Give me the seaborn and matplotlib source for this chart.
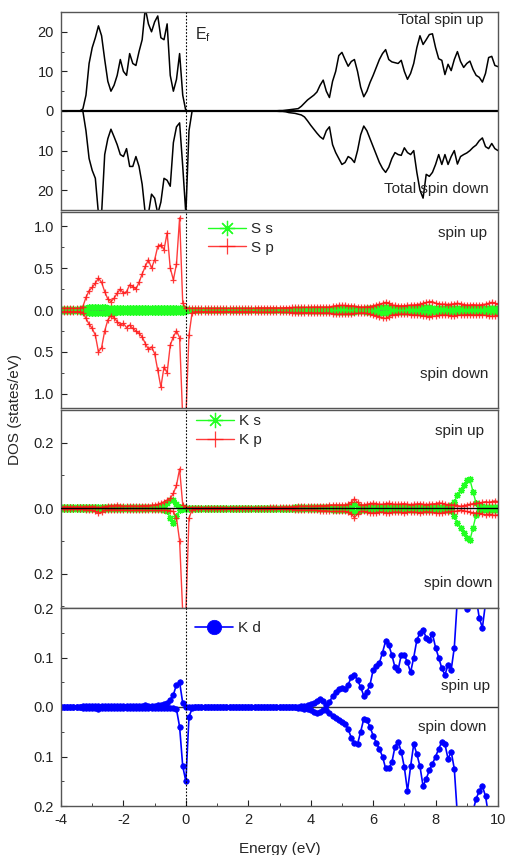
import numpy as np
import matplotlib
matplotlib.use("Agg")
import matplotlib.pyplot as plt
from matplotlib.ticker import MultipleLocator
import seaborn as sns

# energy grid (eV), step 0.1 from -4 to 10
energy = np.round(np.linspace(-4.0, 10.0, 141), 1)

# ---- total DOS ----
total_up = [
    0, 0, 0, 0, 0, 0, 0, 0.5, 4, 12,
    16, 18.5, 21.5, 19, 13, 7.5, 5, 6.5, 9, 13,
    10, 9, 14.5, 12, 11.5, 15, 18, 26, 22, 20,
    22.5, 24, 18.5, 18, 22, 9, 5, 8, 14.5, 4,
    0, 0, 0, 0, 0, 0, 0, 0, 0, 0,
    0, 0, 0, 0, 0, 0, 0, 0, 0, 0,
    0, 0, 0, 0, 0, 0, 0, 0, 0, 0.05,
    0.1, 0.1, 0.2, 0.3, 0.4, 0.5, 0.6, 1.2, 2.0, 2.8,
    3.4, 4.0, 4.8, 6.5, 7.8, 5, 3.4, 7.5, 10, 14,
    14.8, 13, 11.3, 12.5, 13, 10, 6, 3.6, 5, 7.2,
    9, 11, 13, 14.5, 15.5, 13, 12.4, 12.2, 12, 12.8,
    10, 8, 9.5, 12, 16, 19, 16.8, 18, 19.3, 19.5,
    16, 13.2, 12.8, 9.2, 11.8, 10.2, 13, 15, 12.5, 11,
    12, 12.6, 10.5, 9, 8.5, 7.3, 9.5, 13.5, 13.8, 11.5,
    11.2,
]
total_down = [
    0, 0, 0, 0, 0, 0, 0, 0, -5, -12,
    -15, -17, -26, -26, -11, -7, -4.6, -6.5, -8.5, -11,
    -11.5, -9.5, -14, -14, -11.5, -14, -18.5, -26, -26, -21,
    -22, -26, -23, -17, -17.5, -19, -8, -4, -3, -14,
    -26, -5, 0, 0, 0, 0, 0, 0, 0, 0,
    0, 0, 0, 0, 0, 0, 0, 0, 0, 0,
    0, 0, 0, 0, 0, 0, 0, 0, 0, -0.05,
    -0.1, -0.1, -0.2, -0.4, -0.5, -0.6, -0.8, -1.0, -1.5, -2.5,
    -3.6, -4.6, -5.6, -6.5, -7.1, -5, -4, -8.5, -10.5, -12,
    -13.5, -13, -11.5, -12, -13, -10, -6, -3.8, -5, -7,
    -9, -11, -13, -14.5, -15.5, -14.2, -12, -10.5, -11, -11.2,
    -9.3, -10.5, -11, -10, -15.5, -20, -22, -16, -16.5, -15.5,
    -13.5, -11, -13.5, -11, -13.5, -11.5, -10, -13.4, -11.5, -11,
    -10.6, -10, -9.2, -8.6, -7.5, -6.8, -9, -9.5, -8.2, -9.5,
    -10,
]

# ---- S s / S p ----
s_s_up = [
    0.01, 0.01, 0.01, 0.01, 0.01, 0.01, 0.01, 0.02, 0.025, 0.03,
    0.03, 0.03, 0.03, 0.03, 0.03, 0.025, 0.025, 0.025, 0.025, 0.025,
    0.025, 0.025, 0.025, 0.025, 0.025, 0.025, 0.025, 0.025, 0.025, 0.025,
    0.025, 0.025, 0.025, 0.025, 0.025, 0.025, 0.025, 0.025, 0.025, 0.02,
    0.01, 0.005, 0.005, 0.005, 0.005, 0.005, 0.005, 0.005, 0.005, 0.005,
    0.005, 0.005, 0.005, 0.005, 0.005, 0.005, 0.005, 0.005, 0.005, 0.005,
    0.005, 0.005, 0.005, 0.005, 0.005, 0.005, 0.005, 0.005, 0.005, 0.005,
    0.005, 0.005, 0.005, 0.005, 0.005, 0.008, 0.01, 0.01, 0.01, 0.01,
    0.01, 0.012, 0.012, 0.012, 0.012, 0.012, 0.012, 0.015, 0.02, 0.02,
    0.02, 0.02, 0.02, 0.02, 0.02, 0.015, 0.015, 0.015, 0.02, 0.02,
    0.02, 0.025, 0.03, 0.035, 0.035, 0.03, 0.02, 0.02, 0.02, 0.02,
    0.02, 0.02, 0.02, 0.025, 0.025, 0.03, 0.035, 0.035, 0.03, 0.025,
    0.025, 0.02, 0.02, 0.02, 0.02, 0.02, 0.02, 0.025, 0.02, 0.02,
    0.02, 0.02, 0.02, 0.02, 0.02, 0.02, 0.025, 0.025, 0.02, 0.02,
    0.02,
]
s_s_down = [
    -0.01, -0.01, -0.01, -0.01, -0.01, -0.01, -0.01, -0.02, -0.025, -0.03,
    -0.03, -0.035, -0.04, -0.04, -0.04, -0.035, -0.03, -0.03, -0.025, -0.025,
    -0.025, -0.025, -0.025, -0.025, -0.025, -0.025, -0.025, -0.025, -0.025, -0.025,
    -0.025, -0.025, -0.025, -0.025, -0.025, -0.025, -0.025, -0.025, -0.025, -0.02,
    -0.01, -0.005, -0.005, -0.005, -0.005, -0.005, -0.005, -0.005, -0.005, -0.005,
    -0.005, -0.005, -0.005, -0.005, -0.005, -0.005, -0.005, -0.005, -0.005, -0.005,
    -0.005, -0.005, -0.005, -0.005, -0.005, -0.005, -0.005, -0.005, -0.005, -0.005,
    -0.005, -0.005, -0.005, -0.005, -0.005, -0.008, -0.01, -0.01, -0.01, -0.01,
    -0.01, -0.012, -0.012, -0.012, -0.012, -0.012, -0.012, -0.015, -0.02, -0.02,
    -0.02, -0.02, -0.02, -0.02, -0.02, -0.015, -0.015, -0.015, -0.02, -0.02,
    -0.02, -0.025, -0.03, -0.035, -0.04, -0.03, -0.02, -0.02, -0.02, -0.02,
    -0.02, -0.02, -0.02, -0.025, -0.025, -0.03, -0.035, -0.035, -0.03, -0.025,
    -0.025, -0.02, -0.02, -0.02, -0.02, -0.02, -0.02, -0.025, -0.02, -0.02,
    -0.02, -0.02, -0.02, -0.02, -0.02, -0.02, -0.025, -0.025, -0.02, -0.02,
    -0.02,
]
s_p_up = [
    0.02, 0.02, 0.02, 0.02, 0.02, 0.02, 0.02, 0.04, 0.15, 0.23,
    0.27, 0.32, 0.38, 0.33, 0.22, 0.13, 0.1, 0.14, 0.2, 0.25,
    0.2, 0.22, 0.3, 0.28, 0.25, 0.33, 0.43, 0.52, 0.6, 0.5,
    0.6, 0.76, 0.78, 0.72, 0.92, 0.5, 0.36, 0.55, 1.1, 0.08,
    0.02, 0.02, 0.02, 0.02, 0.02, 0.02, 0.02, 0.02, 0.02, 0.02,
    0.02, 0.02, 0.02, 0.02, 0.02, 0.02, 0.02, 0.02, 0.02, 0.02,
    0.02, 0.02, 0.02, 0.025, 0.025, 0.025, 0.025, 0.025, 0.025, 0.025,
    0.025, 0.025, 0.028, 0.028, 0.03, 0.03, 0.03, 0.03, 0.032, 0.032,
    0.032, 0.035, 0.035, 0.035, 0.035, 0.035, 0.035, 0.045, 0.05, 0.055,
    0.055, 0.055, 0.05, 0.05, 0.045, 0.04, 0.035, 0.035, 0.035, 0.04,
    0.05, 0.06, 0.07, 0.08, 0.09, 0.08, 0.06, 0.055, 0.05, 0.05,
    0.05, 0.055, 0.06, 0.06, 0.065, 0.07, 0.08, 0.09, 0.1, 0.1,
    0.08, 0.075, 0.07, 0.07, 0.065, 0.07, 0.075, 0.08, 0.075, 0.065,
    0.06, 0.06, 0.065, 0.06, 0.06, 0.065, 0.07, 0.08, 0.09, 0.08,
    0.07,
]
s_p_down = [
    -0.02, -0.02, -0.02, -0.02, -0.02, -0.02, -0.02, -0.03, -0.1, -0.17,
    -0.22, -0.3, -0.5, -0.45, -0.25, -0.12, -0.07, -0.09, -0.14, -0.18,
    -0.16, -0.21, -0.18, -0.22, -0.25, -0.28, -0.32, -0.4, -0.47, -0.44,
    -0.52, -0.72, -0.92, -0.68, -0.75, -0.42, -0.32, -0.25, -0.33, -1.3,
    -1.3, -0.3, -0.03, -0.02, -0.02, -0.02, -0.02, -0.02, -0.02, -0.02,
    -0.02, -0.02, -0.02, -0.02, -0.02, -0.02, -0.02, -0.02, -0.02, -0.02,
    -0.02, -0.02, -0.02, -0.025, -0.025, -0.025, -0.025, -0.025, -0.025, -0.025,
    -0.025, -0.025, -0.028, -0.028, -0.03, -0.03, -0.03, -0.03, -0.032, -0.032,
    -0.032, -0.035, -0.035, -0.035, -0.035, -0.035, -0.035, -0.045, -0.05, -0.05,
    -0.05, -0.05, -0.045, -0.045, -0.04, -0.04, -0.035, -0.035, -0.04, -0.05,
    -0.06, -0.07, -0.08, -0.09, -0.1, -0.08, -0.06, -0.055, -0.05, -0.05,
    -0.05, -0.05, -0.055, -0.06, -0.06, -0.065, -0.07, -0.075, -0.08, -0.075,
    -0.07, -0.065, -0.06, -0.06, -0.065, -0.07, -0.07, -0.065, -0.06, -0.06,
    -0.055, -0.055, -0.06, -0.06, -0.055, -0.06, -0.065, -0.07, -0.075, -0.07,
    -0.065,
]

# ---- K s / K p ----
k_s_up = [
    0.004, 0.004, 0.004, 0.004, 0.004, 0.004, 0.004, 0.004, 0.004, 0.004,
    0.004, 0.004, 0.004, 0.004, 0.004, 0.004, 0.004, 0.004, 0.004, 0.004,
    0.004, 0.004, 0.004, 0.004, 0.004, 0.004, 0.004, 0.004, 0.004, 0.004,
    0.004, 0.004, 0.004, 0.006, 0.015, 0.025, 0.025, 0.012, 0.005, 0.003,
    0.002, 0.002, 0.002, 0.002, 0.002, 0.002, 0.002, 0.002, 0.002, 0.002,
    0.002, 0.002, 0.002, 0.002, 0.002, 0.002, 0.002, 0.002, 0.002, 0.002,
    0.002, 0.002, 0.002, 0.002, 0.002, 0.002, 0.002, 0.002, 0.002, 0.002,
    0.002, 0.002, 0.002, 0.002, 0.002, 0.003, 0.003, 0.003, 0.003, 0.003,
    0.003, 0.003, 0.004, 0.004, 0.004, 0.004, 0.004, 0.005, 0.005, 0.005,
    0.005, 0.005, 0.006, 0.008, 0.012, 0.008, 0.005, 0.005, 0.005, 0.005,
    0.005, 0.005, 0.005, 0.005, 0.005, 0.005, 0.005, 0.005, 0.005, 0.005,
    0.005, 0.005, 0.005, 0.005, 0.005, 0.005, 0.005, 0.005, 0.005, 0.005,
    0.005, 0.005, 0.005, 0.005, 0.005, 0.01, 0.02, 0.04, 0.055, 0.07,
    0.085, 0.088, 0.05, 0.015, 0.008, 0.006, 0.005, 0.005, 0.005, 0.005,
    0.005,
]
k_s_down = [
    -0.004, -0.004, -0.004, -0.004, -0.004, -0.004, -0.004, -0.004, -0.004, -0.004,
    -0.004, -0.004, -0.004, -0.004, -0.004, -0.004, -0.004, -0.004, -0.004, -0.004,
    -0.004, -0.004, -0.004, -0.004, -0.004, -0.004, -0.004, -0.004, -0.004, -0.004,
    -0.004, -0.004, -0.004, -0.005, -0.01, -0.03, -0.045, -0.025, -0.006, -0.003,
    -0.002, -0.002, -0.002, -0.002, -0.002, -0.002, -0.002, -0.002, -0.002, -0.002,
    -0.002, -0.002, -0.002, -0.002, -0.002, -0.002, -0.002, -0.002, -0.002, -0.002,
    -0.002, -0.002, -0.002, -0.002, -0.002, -0.002, -0.002, -0.002, -0.002, -0.002,
    -0.002, -0.002, -0.002, -0.002, -0.002, -0.003, -0.003, -0.003, -0.003, -0.003,
    -0.003, -0.003, -0.004, -0.004, -0.004, -0.004, -0.004, -0.005, -0.005, -0.005,
    -0.005, -0.005, -0.006, -0.008, -0.012, -0.008, -0.005, -0.005, -0.005, -0.005,
    -0.005, -0.005, -0.005, -0.005, -0.005, -0.005, -0.005, -0.005, -0.005, -0.005,
    -0.005, -0.005, -0.005, -0.005, -0.005, -0.005, -0.005, -0.005, -0.005, -0.005,
    -0.005, -0.005, -0.005, -0.005, -0.005, -0.01, -0.025, -0.045, -0.06, -0.075,
    -0.09, -0.098, -0.06, -0.02, -0.008, -0.006, -0.005, -0.005, -0.005, -0.005,
    -0.005,
]
k_p_up = [
    0.004, 0.004, 0.004, 0.004, 0.004, 0.004, 0.004, 0.004, 0.005, 0.005,
    0.005, 0.004, 0.002, 0.003, 0.005, 0.006, 0.008, 0.008, 0.01, 0.008,
    0.006, 0.006, 0.007, 0.007, 0.006, 0.006, 0.008, 0.008, 0.008, 0.009,
    0.01, 0.012, 0.015, 0.02, 0.025, 0.03, 0.045, 0.07, 0.12, 0.01,
    0.003, 0.002, 0.002, 0.002, 0.002, 0.002, 0.002, 0.002, 0.002, 0.002,
    0.002, 0.002, 0.002, 0.002, 0.002, 0.002, 0.002, 0.002, 0.002, 0.002,
    0.002, 0.002, 0.002, 0.002, 0.002, 0.002, 0.002, 0.003, 0.003, 0.003,
    0.003, 0.003, 0.004, 0.004, 0.004, 0.005, 0.006, 0.006, 0.006, 0.006,
    0.006, 0.006, 0.007, 0.008, 0.008, 0.008, 0.01, 0.01, 0.01, 0.01,
    0.01, 0.01, 0.012, 0.018, 0.028, 0.018, 0.01, 0.01, 0.012, 0.014,
    0.015, 0.014, 0.012, 0.012, 0.014, 0.015, 0.013, 0.012, 0.012, 0.013,
    0.014, 0.012, 0.011, 0.012, 0.013, 0.014, 0.012, 0.011, 0.012, 0.013,
    0.014, 0.016, 0.015, 0.012, 0.011, 0.01, 0.01, 0.008, 0.006, 0.008,
    0.01, 0.012, 0.014, 0.015, 0.016, 0.018, 0.02, 0.018, 0.02, 0.022,
    0.02,
]
k_p_down = [
    -0.004, -0.004, -0.004, -0.004, -0.004, -0.004, -0.004, -0.004, -0.005, -0.006,
    -0.007, -0.01, -0.015, -0.012, -0.007, -0.006, -0.005, -0.005, -0.006, -0.006,
    -0.006, -0.006, -0.007, -0.007, -0.006, -0.006, -0.007, -0.007, -0.007, -0.007,
    -0.007, -0.007, -0.007, -0.007, -0.007, -0.008, -0.01, -0.03, -0.1, -0.32,
    -0.32, -0.03, -0.005, -0.002, -0.002, -0.002, -0.002, -0.002, -0.002, -0.002,
    -0.002, -0.002, -0.002, -0.002, -0.002, -0.002, -0.002, -0.002, -0.002, -0.002,
    -0.002, -0.002, -0.002, -0.002, -0.002, -0.002, -0.002, -0.003, -0.003, -0.003,
    -0.003, -0.003, -0.004, -0.004, -0.004, -0.005, -0.006, -0.006, -0.006, -0.006,
    -0.006, -0.006, -0.007, -0.008, -0.008, -0.008, -0.01, -0.01, -0.01, -0.01,
    -0.01, -0.01, -0.012, -0.018, -0.029, -0.018, -0.01, -0.01, -0.012, -0.014,
    -0.015, -0.014, -0.012, -0.012, -0.014, -0.015, -0.013, -0.012, -0.012, -0.013,
    -0.014, -0.012, -0.011, -0.012, -0.013, -0.014, -0.012, -0.011, -0.012, -0.013,
    -0.014, -0.016, -0.015, -0.012, -0.011, -0.01, -0.01, -0.008, -0.006, -0.008,
    -0.01, -0.012, -0.014, -0.015, -0.016, -0.018, -0.02, -0.018, -0.02, -0.022,
    -0.02,
]

# ---- K d ----
k_d_up = [
    0.001, 0.001, 0.001, 0.001, 0.001, 0.001, 0.001, 0.002, 0.002, 0.003,
    0.003, 0.003, 0.003, 0.003, 0.003, 0.002, 0.002, 0.002, 0.003, 0.003,
    0.003, 0.003, 0.003, 0.003, 0.003, 0.003, 0.003, 0.004, 0.003, 0.003,
    0.003, 0.004, 0.005, 0.006, 0.008, 0.015, 0.025, 0.045, 0.05, 0.008,
    0, 0, 0, 0, 0, 0, 0, 0, 0, 0,
    0, 0, 0, 0, 0, 0, 0, 0, 0, 0,
    0, 0, 0, 0, 0, 0, 0, 0, 0, 0,
    0, 0, 0, 0, 0, 0.001, 0.001, 0.002, 0.003, 0.004,
    0.006, 0.009, 0.012, 0.016, 0.012, 0.004, 0.01, 0.022, 0.03, 0.036,
    0.038, 0.036, 0.045, 0.06, 0.064, 0.055, 0.04, 0.023, 0.03, 0.045,
    0.075, 0.082, 0.089, 0.11, 0.133, 0.125, 0.105, 0.08, 0.075, 0.105,
    0.105, 0.09, 0.07, 0.1, 0.135, 0.15, 0.156, 0.14, 0.135, 0.148,
    0.12, 0.1, 0.078, 0.065, 0.085, 0.075, 0.12, 0.22, 0.25, 0.22,
    0.198, 0.23, 0.25, 0.22, 0.18, 0.16, 0.21, 0.25, 0.25, 0.25,
    0.25,
]
k_d_down = [
    -0.001, -0.001, -0.001, -0.001, -0.001, -0.001, -0.001, -0.002, -0.002, -0.003,
    -0.003, -0.003, -0.004, -0.003, -0.003, -0.002, -0.002, -0.002, -0.003, -0.003,
    -0.003, -0.003, -0.003, -0.003, -0.003, -0.003, -0.003, -0.003, -0.003, -0.003,
    -0.003, -0.003, -0.003, -0.003, -0.003, -0.003, -0.003, -0.005, -0.04, -0.12,
    -0.15, -0.02, -0.003, 0, 0, 0, 0, 0, 0, 0,
    0, 0, 0, 0, 0, 0, 0, 0, 0, 0,
    0, 0, 0, 0, 0, 0, 0, 0, 0, 0,
    0, 0, 0, 0, 0, -0.001, -0.002, -0.003, -0.004, -0.005,
    -0.007, -0.01, -0.013, -0.011, -0.007, -0.006, -0.012, -0.018, -0.022, -0.026,
    -0.03, -0.034, -0.045, -0.062, -0.072, -0.075, -0.05, -0.024, -0.027, -0.04,
    -0.058, -0.072, -0.085, -0.1, -0.124, -0.124, -0.112, -0.08, -0.07, -0.09,
    -0.122, -0.17, -0.12, -0.075, -0.095, -0.12, -0.16, -0.145, -0.128, -0.115,
    -0.1, -0.085, -0.07, -0.075, -0.105, -0.09, -0.125, -0.22, -0.25, -0.26,
    -0.25, -0.24, -0.21, -0.185, -0.17, -0.16, -0.18, -0.22, -0.25, -0.25,
    -0.25,
]

x_ticks = [-4, -2, 0, 2, 4, 6, 8, 10]
x_tick_labels = ["-4", "-2", "0", "2", "4", "6", "8", "10"]
p1_ticks, p1_labels = [-20, -10, 0, 10, 20], ["20", "10", "0", "10", "20"]
p2_ticks, p2_labels = [-1.0, -0.5, 0.0, 0.5, 1.0], ["1.0", "0.5", "0.0", "0.5", "1.0"]
p3_ticks, p3_labels = [-0.2, 0.0, 0.2], ["0.2", "0.0", "0.2"]
p4_ticks, p4_labels = [-0.2, -0.1, 0.0, 0.1, 0.2], ["0.2", "0.1", "0.0", "0.1", "0.2"]

sns.set_style("white")
plt.rcParams['font.family'] = ['Liberation Sans', 'DejaVu Sans']
plt.rcParams['mathtext.default'] = 'regular'

W, H = 505, 855
fig = plt.figure(figsize=(W / 100, H / 100), dpi=100)

def axes_px(top, bottom):
    return fig.add_axes([61 / W, 1 - bottom / H, 437 / W, (bottom - top) / H])

ax1 = axes_px(12, 210)
ax2 = axes_px(212, 408)
ax3 = axes_px(410, 608)
ax4 = axes_px(608, 806)
axes = [ax1, ax2, ax3, ax4]

GREEN = '#22ff22'
RED = '#ff1a1a'
BLUE = '#0000ff'
star = (8, 2, 0)

# panel 1: total
sns.lineplot(x=energy, y=total_up, ax=ax1, color='black', linewidth=1.1, estimator=None, sort=False)
sns.lineplot(x=energy, y=total_down, ax=ax1, color='black', linewidth=1.1, estimator=None, sort=False)
ax1.axhline(0, color='black', lw=1.6, zorder=1)

# panel 2: S
kw_s = dict(color=GREEN, marker=star, markersize=5, markeredgecolor=GREEN, markeredgewidth=0.9,
            linewidth=1, estimator=None, sort=False)
kw_p = dict(color=RED, marker='+', markersize=5, markeredgecolor=RED, markeredgewidth=0.9,
            linewidth=1, estimator=None, sort=False, alpha=0.85)
ax2.axhline(0, color='#555555', lw=1.2, zorder=1)
sns.lineplot(x=energy, y=s_s_up, ax=ax2, label='S s', **kw_s)
sns.lineplot(x=energy, y=s_s_down, ax=ax2, **kw_s)
sns.lineplot(x=energy, y=s_p_up, ax=ax2, label='S p', **kw_p)
sns.lineplot(x=energy, y=s_p_down, ax=ax2, **kw_p)

# panel 3: K s, K p
sns.lineplot(x=energy, y=k_s_up, ax=ax3, label='K s', **kw_s)
sns.lineplot(x=energy, y=k_s_down, ax=ax3, **kw_s)
sns.lineplot(x=energy, y=k_p_up, ax=ax3, label='K p', **kw_p)
sns.lineplot(x=energy, y=k_p_down, ax=ax3, **kw_p)
ax3.axhline(0, color='black', lw=1.0, zorder=3)

# panel 4: K d
kw_d = dict(color=BLUE, marker='o', markersize=4, markeredgecolor=BLUE, markeredgewidth=0.5,
            linewidth=1.2, estimator=None, sort=False)
sns.lineplot(x=energy, y=k_d_up, ax=ax4, label='K d', **kw_d)
sns.lineplot(x=energy, y=k_d_down, ax=ax4, **kw_d)
ax4.axhline(0, color='#333333', lw=1.0, zorder=1)

limits = [(-25, 25), (-1.17, 1.17), (-0.305, 0.3), (-0.2, 0.2)]
ticks = [(p1_ticks, p1_labels, 5), (p2_ticks, p2_labels, 0.25),
         (p3_ticks, p3_labels, 0.1), (p4_ticks, p4_labels, 0.05)]
for ax, lim, (tk, tl, mn) in zip(axes, limits, ticks):
    ax.set_xlim(-4, 10)
    ax.set_ylim(*lim)
    ax.set_yticks(tk)
    ax.set_yticklabels(tl)
    ax.yaxis.set_minor_locator(MultipleLocator(mn))
    ax.xaxis.set_minor_locator(MultipleLocator(1))
    ax.set_xticks(x_ticks)
    ax.axvline(0, color='black', lw=0.8, ls=(0, (1.5, 1.5)), zorder=4)
    ax.tick_params(axis='both', which='major', direction='in', length=4, width=0.8,
                   labelsize=10.5, colors='#222222', left=True, bottom=True, pad=5)
    ax.tick_params(axis='both', which='minor', direction='in', length=2.5, width=0.6,
                   left=True, bottom=True)
    ax.set_xlabel('')
    ax.set_ylabel('')
    for sp in ax.spines.values():
        sp.set_color('#555555')
        sp.set_linewidth(1.0)
    if ax is not ax4:
        ax.tick_params(axis='x', which='both', labelbottom=False, length=0)

ax4.set_xticklabels(x_tick_labels)
ax4.set_xlabel('Energy (eV)', fontsize=11, labelpad=11)
fig.text(15 / W, 1 - 409 / H, 'DOS (states/eV)', rotation=90, ha='center', va='center', fontsize=11)

# annotations
txt = dict(ha='right', va='center', fontsize=11)
ax1.text(0.3, 18, r'E$_\mathregular{f}$', fontsize=11.5)
ax1.text(0.966, 0.96, 'Total spin up', transform=ax1.transAxes, **txt)
ax1.text(0.978, 0.105, 'Total spin down', transform=ax1.transAxes, **txt)
ax2.text(0.974, 0.895, 'spin up', transform=ax2.transAxes, **txt)
ax2.text(0.978, 0.173, 'spin down', transform=ax2.transAxes, **txt)
ax3.text(0.968, 0.894, 'spin up', transform=ax3.transAxes, **txt)
ax3.text(0.987, 0.127, 'spin down', transform=ax3.transAxes, **txt)
ax4.text(0.982, 0.606, 'spin up', transform=ax4.transAxes, **txt)
ax4.text(0.974, 0.40, 'spin down', transform=ax4.transAxes, **txt)

leg_kw = dict(loc='upper left', frameon=False, fontsize=11, handlelength=2.5,
              handletextpad=0.3, borderpad=0, borderaxespad=0, labelspacing=0.3)
ax2.legend(bbox_to_anchor=(0.336, 0.948), markerscale=2.2, **leg_kw)
ax3.legend(bbox_to_anchor=(0.309, 0.978), markerscale=2.2, **leg_kw)
ax4.legend(bbox_to_anchor=(0.307, 0.935), markerscale=2.6, **leg_kw)

fig.savefig('out.png', dpi=100)
